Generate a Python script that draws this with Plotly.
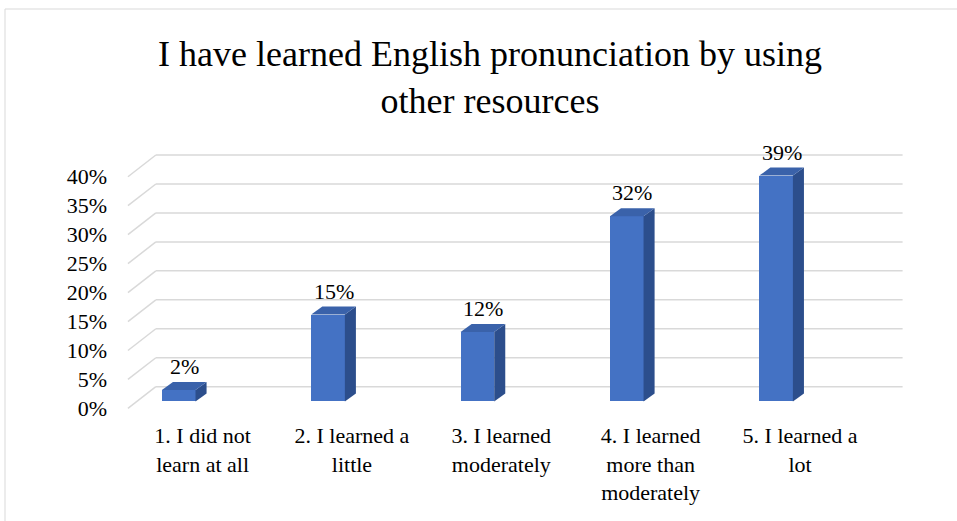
import plotly.graph_objects as go

# ---- data ----
categories = [
    "1. I did not<br>learn at all",
    "2. I learned a<br>little",
    "3. I learned<br>moderately",
    "4. I learned<br>more than<br>moderately",
    "5. I learned a<br>lot",
]
values = [2, 15, 12, 32, 39]
y_ticks = [0, 5, 10, 15, 20, 25, 30, 35, 40]
y_tick_labels = [f"{v}%" for v in y_ticks]
title_text = "I have learned English pronunciation by using<br>other resources"

# ---- pseudo-3D geometry (axis units) ----
BAR_BASE = 1.2      # front face of the bars sits slightly behind the floor edge
BAR_SHIFT = -0.16   # bars offset from the category centre
BAR_W = 0.225
BAR_DX, BAR_DY = 0.074, 1.38    # bar depth projection
WALL_DX, WALL_DY = 0.187, 3.75  # back wall depth projection
X_MIN, X_MAX = -0.5, 4.5

FONT = "Liberation Serif, Times New Roman, serif"
FRONT = "#4472C4"
TOP = "#3A62AA"
SIDE = "#2C4E8C"
GRID = "#D9D9D9"

W, H = 957, 521
ML, MR, MT, MB = 113, 45, 142, 101

fig = go.Figure()

xs = list(range(len(values)))
bx = [i + BAR_SHIFT for i in xs]

# front faces
fig.add_trace(go.Bar(
    x=bx, y=values, base=[BAR_BASE] * len(values), width=BAR_W,
    marker=dict(color=FRONT, line=dict(width=0)),
    hoverinfo="skip", showlegend=False,
))

# side and top faces
for c, v in zip(bx, values):
    xl, xr = c - BAR_W / 2, c + BAR_W / 2
    b, t = BAR_BASE, BAR_BASE + v
    fig.add_trace(go.Scatter(
        x=[xr, xr + BAR_DX, xr + BAR_DX, xr, xr],
        y=[b, b + BAR_DY, t + BAR_DY, t, b],
        mode="lines", fill="toself", fillcolor=SIDE,
        line=dict(width=0, color=SIDE), hoverinfo="skip", showlegend=False,
    ))
    fig.add_trace(go.Scatter(
        x=[xl, xl + BAR_DX, xr + BAR_DX, xr, xl],
        y=[t, t + BAR_DY, t + BAR_DY, t, t],
        mode="lines", fill="toself", fillcolor=TOP,
        line=dict(width=0, color=TOP), hoverinfo="skip", showlegend=False,
    ))

# value labels above each bar
for c, v in zip(bx, values):
    fig.add_annotation(
        x=c + BAR_DX / 2, y=BAR_BASE + v + BAR_DY, text=f"{v}%",
        showarrow=False, yanchor="bottom", yshift=1,
        font=dict(family=FONT, size=22, color="#000000"),
    )

# gridlines: short diagonal on the side wall plus the back wall line
for v in y_ticks:
    fig.add_shape(type="line", layer="below",
                  x0=X_MIN, y0=v, x1=X_MIN + WALL_DX, y1=v + WALL_DY,
                  line=dict(color=GRID, width=1.5))
    fig.add_shape(type="line", layer="below",
                  x0=X_MIN + WALL_DX, y0=v + WALL_DY, x1=X_MAX + WALL_DX, y1=v + WALL_DY,
                  line=dict(color=GRID, width=1.5))

# chart border
pw, ph = W - ML - MR, H - MT - MB
fig.add_shape(type="rect", xref="paper", yref="paper", layer="below",
              x0=(5 - ML) / pw, x1=(W + 20 - ML) / pw,
              y0=(H - MB - (H + 20)) / ph, y1=(H - MB - 9) / ph,
              line=dict(color=GRID, width=1))

fig.update_layout(
    width=W, height=H,
    margin=dict(l=ML, r=MR, t=MT, b=MB),
    paper_bgcolor="white", plot_bgcolor="white",
    title=dict(text=title_text, x=490 / W, xanchor="center",
               y=1 - 66 / H, yanchor="top", yref="container",
               font=dict(family=FONT, size=36, color="#000000")),
    xaxis=dict(range=[-0.6, 4.75], tickvals=xs, ticktext=categories,
               showgrid=False, zeroline=False, showline=False, ticks="",
               tickfont=dict(family=FONT, size=22, color="#000000")),
    yaxis=dict(range=[-2, 46], tickvals=y_ticks, ticktext=y_tick_labels,
               showgrid=False, zeroline=False, showline=False, ticks="",
               ticklabelstandoff=5,
               tickfont=dict(family=FONT, size=22, color="#000000")),
    bargap=0,
    showlegend=False,
)

fig.write_html("out.html")
